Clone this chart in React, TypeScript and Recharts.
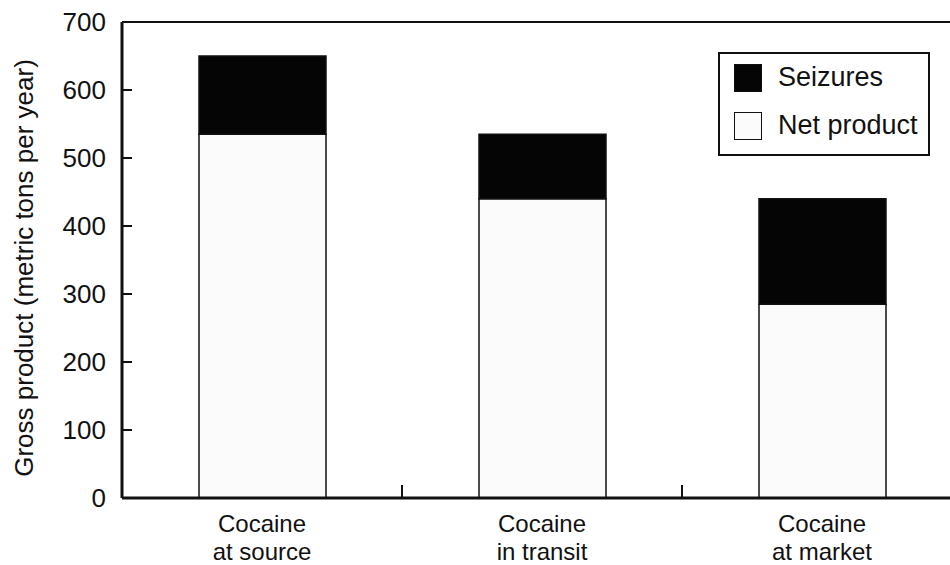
import { Bar, BarChart, Label, Legend, ReferenceLine, XAxis, YAxis } from "recharts";

const categories = ["Cocaine\nat source", "Cocaine\nin transit", "Cocaine\nat market"];
const netProduct = [535, 440, 285];
const seizures = [115, 95, 155];
const yTicks = [0, 100, 200, 300, 400, 500, 600, 700];
const dividerTicks = [1, 2];

const data = categories.map((name, i) => ({
  name,
  net: netProduct[i],
  seizures: seizures[i],
}));

const font = "'Liberation Sans', Arial, Helvetica, sans-serif";

function CategoryTick(props: any) {
  const { x, y, payload } = props;
  const lines = String(payload.value).split("\n");
  return (
    <text x={x} y={y} textAnchor="middle" fill="#111" fontSize={24} fontFamily={font}>
      {lines.map((line, i) => (
        <tspan key={i} x={x} dy={i === 0 ? 34 : 28}>
          {line}
        </tspan>
      ))}
    </text>
  );
}

// draws nothing, so only the tick line of the axis is left
function EmptyTick() {
  return <g />;
}

function LegendBox() {
  const rows = [
    { label: "Seizures", fill: "#050505" },
    { label: "Net product", fill: "#fbfbfb" },
  ];
  return (
    <div
      style={{
        position: "relative",
        width: 212,
        height: 104,
        border: "2px solid #111",
        boxSizing: "border-box",
        background: "#fff",
        fontFamily: font,
        fontSize: 27,
        color: "#111",
      }}
    >
      {rows.map((r, i) => (
        <div key={r.label}>
          <div
            style={{
              position: "absolute",
              left: 14,
              top: 10 + i * 48,
              width: 28,
              height: 28,
              background: r.fill,
              border: "1.5px solid #111",
              boxSizing: "border-box",
            }}
          />
          <div style={{ position: "absolute", left: 58, top: 7 + i * 48, lineHeight: "32px", whiteSpace: "nowrap" }}>
            {r.label}
          </div>
        </div>
      ))}
    </div>
  );
}

function YLabel(props: any) {
  const { viewBox } = props;
  const cx = 33;
  const cy = viewBox.y + viewBox.height / 2 + 8;
  return (
    <text
      x={cx}
      y={cy}
      transform={`rotate(-90, ${cx}, ${cy})`}
      textAnchor="middle"
      fill="#111"
      fontSize={26}
      fontFamily={font}
    >
      Gross product (metric tons per year)
    </text>
  );
}

export default function App() {
  return (
    <div style={{ position: "fixed", left: 0, top: 0, width: 950, height: 565, overflow: "hidden", background: "#fff" }}>
      <BarChart width={990} height={565} data={data} margin={{ top: 22, right: 28, left: 0, bottom: 7 }}>
        <XAxis
          dataKey="name"
          height={60}
          axisLine={{ stroke: "#111", strokeWidth: 3 }}
          tickLine={false}
          tickSize={0}
          tickMargin={0}
          tick={<CategoryTick />}
          interval={0}
        />
        <XAxis
          xAxisId="div"
          type="number"
          dataKey={() => 0}
          domain={[0, 3]}
          allowDataOverflow
          ticks={dividerTicks}
          interval={0}
          mirror
          height={1}
          tick={<EmptyTick />}
          tickSize={13}
          axisLine={false}
          tickLine={{ stroke: "#111", strokeWidth: 2 }}
        />
        <YAxis
          domain={[0, 700]}
          ticks={yTicks}
          width={122}
          axisLine={{ stroke: "#111", strokeWidth: 3 }}
          tickLine={false}
          tickSize={0}
          tickMargin={16}
          tick={{ fill: "#111", fontSize: 26, fontFamily: font }}
        >
          <Label content={<YLabel />} />
        </YAxis>
        <YAxis
          yAxisId="tk"
          type="number"
          dataKey={() => 0}
          domain={[0, 700]}
          allowDataOverflow
          ticks={yTicks}
          interval={0}
          mirror
          width={1}
          tick={<EmptyTick />}
          tickSize={10}
          axisLine={false}
          tickLine={{ stroke: "#111", strokeWidth: 2 }}
        />
        <ReferenceLine y={700} stroke="#111" strokeWidth={2} ifOverflow="visible" />
        <Legend
          layout="vertical"
          align="center"
          verticalAlign="middle"
          content={<LegendBox />}
          wrapperStyle={{ position: "absolute", left: 718, top: 52, width: 212, height: 104 }}
        />
        <Bar dataKey="net" stackId="a" barSize={127} fill="#fbfbfb" stroke="#111" strokeWidth={1.5} isAnimationActive={false} />
        <Bar dataKey="seizures" stackId="a" barSize={127} fill="#050505" stroke="#111" strokeWidth={1.5} isAnimationActive={false} />
      </BarChart>
    </div>
  );
}
